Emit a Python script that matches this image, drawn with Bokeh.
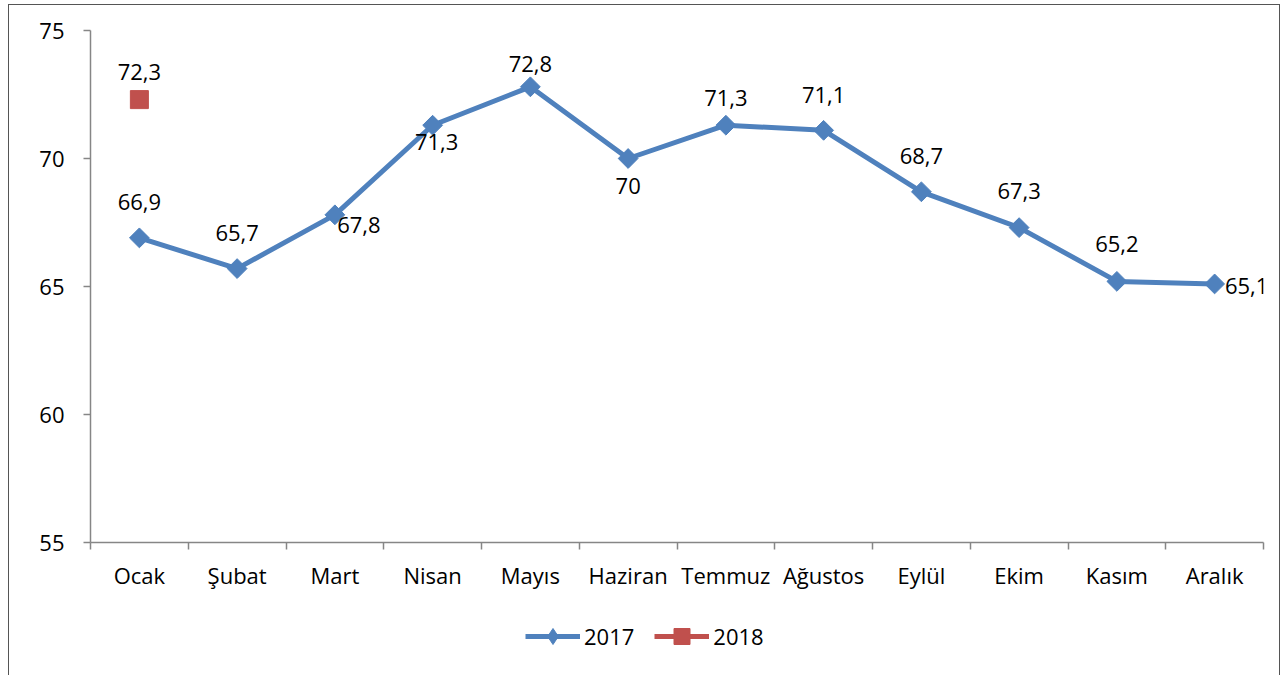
import math
from bokeh.plotting import figure
from bokeh.layouts import column
from bokeh.models import ColumnDataSource, FixedTicker, Legend, LegendItem
from bokeh.core.properties import value
from bokeh.embed import file_html
from bokeh.resources import INLINE

months = ["Ocak", "Şubat", "Mart", "Nisan", "Mayıs", "Haziran", "Temmuz",
          "Ağustos", "Eylül", "Ekim", "Kasım", "Aralık"]
values_2017 = [66.9, 65.7, 67.8, 71.3, 72.8, 70.0, 71.3, 71.1, 68.7, 67.3, 65.2, 65.1]
months_2018 = ["Ocak"]
values_2018 = [72.3]
y_ticks = [55, 60, 65, 70, 75]

# data-label placement (screen px offsets from each point)
label_dx_2017 = [0, 0, 24, 4, 0, 0, 0, 0, 0, 0, 0, 32]
label_dy_2017 = [-36, -36, 10, 17, -23, 27, -27, -35, -36, -37, -37, 2]

FONT = "Open Sans"
BLUE = "#4F81BD"
RED = "#C0504D"
AXIS = "#868686"
FS = "22px"
DIAMOND = dict(marker="square", size=14, angle=math.pi / 4)

def fmt(v):
    s = ("%.1f" % v).rstrip("0").rstrip(".")
    return s.replace(".", ",")

xs17 = [months.index(m) + 0.5 for m in months]
xs18 = [months.index(m) + 0.5 for m in months_2018]

src17 = ColumnDataSource(dict(
    x=xs17, y=values_2017, label=[fmt(v) for v in values_2017],
    xo=label_dx_2017, yo=label_dy_2017,
))
src18 = ColumnDataSource(dict(
    x=xs18, y=values_2018, label=[fmt(v) for v in values_2018],
    xo=[0] * len(values_2018), yo=[-28] * len(values_2018),
))

p = figure(width=1270, height=600, x_range=(0, 12), y_range=(55, 75),
           output_backend="svg", toolbar_location=None,
           min_border_left=81, min_border_right=16, min_border_top=25,
           min_border_bottom=63)
p.outline_line_color = None
p.xgrid.visible = False
p.ygrid.visible = False

p.line("x", "y", source=src17, line_color=BLUE, line_width=5)
p.scatter("x", "y", source=src17, fill_color=BLUE, line_color=BLUE, **DIAMOND)
p.scatter("x", "y", source=src18, marker="square", size=18,
          fill_color=RED, line_color=RED)

for src in (src17, src18):
    p.text("x", "y", text="label", source=src, x_offset="xo", y_offset="yo",
           text_font=value(FONT), text_font_size=FS, text_color="black",
           text_align="center", text_baseline="middle")

p.xaxis.ticker = FixedTicker(ticks=xs17, minor_ticks=list(range(0, 13)))
p.xaxis.major_label_overrides = {x: m for x, m in zip(xs17, months)}
p.xaxis.major_tick_line_color = None
p.xaxis.major_tick_out = 7
p.xaxis.minor_tick_out = 7
p.xaxis.minor_tick_in = 0
p.xaxis.minor_tick_line_color = AXIS
p.xaxis.axis_line_color = AXIS
p.xaxis.axis_line_width = 1.5
p.xaxis.minor_tick_line_width = 1.5
p.xaxis.major_label_text_font = FONT
p.xaxis.major_label_text_font_size = FS
p.xaxis.major_label_text_color = "black"
p.xaxis.major_label_standoff = 10

p.yaxis.ticker = FixedTicker(ticks=y_ticks, minor_ticks=[])
p.yaxis.major_tick_out = 7
p.yaxis.major_tick_in = 0
p.yaxis.major_tick_line_color = AXIS
p.yaxis.major_tick_line_width = 1.5
p.yaxis.axis_line_color = AXIS
p.yaxis.axis_line_width = 1.5
p.yaxis.major_label_text_font = FONT
p.yaxis.major_label_text_font_size = FS
p.yaxis.major_label_text_color = "black"
p.yaxis.major_label_standoff = 19

# legend strip (series drawn off-range, only their legend glyphs show)
lf = figure(width=1270, height=71, x_range=(1000, 1001), y_range=(1000, 1001),
            output_backend="svg", toolbar_location=None,
            x_axis_type=None, y_axis_type=None,
            min_border_left=81, min_border_right=16, min_border_top=0,
            min_border_bottom=0)
lf.outline_line_color = None
lf.xgrid.visible = False
lf.ygrid.visible = False
ll17 = lf.line("x", "y", source=src17, line_color=BLUE, line_width=5)
lm17 = lf.scatter("x", "y", source=src17, marker="diamond", size=20,
                  fill_color=BLUE, line_color=BLUE)
ll18 = lf.line("x", "y", source=src18, line_color=RED, line_width=5)
lm18 = lf.scatter("x", "y", source=src18, marker="square", size=18,
                  fill_color=RED, line_color=RED)
legend = Legend(items=[LegendItem(label="2017", renderers=[ll17, lm17]),
                       LegendItem(label="2018", renderers=[ll18, lm18])],
                orientation="horizontal", location=(435, 20),
                glyph_width=55, glyph_height=40, label_height=40,
                label_standoff=4, spacing=20,
                padding=0, margin=0, border_line_color=None,
                background_fill_alpha=0,
                label_text_font=FONT, label_text_font_size=FS,
                label_text_color="black")
lf.add_layout(legend, "center")

layout = column(p, lf, spacing=0)
layout.styles = {"box-shadow": "0 0 0 1px #555555",
                 "margin-left": "9px", "margin-top": "5px"}

open("out.html", "w").write(file_html(layout, INLINE))
